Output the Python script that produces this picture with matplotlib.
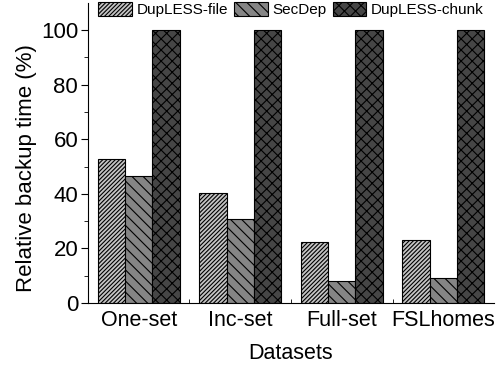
import matplotlib.pyplot as plt
import numpy as np

plt.rcParams['font.family'] = ['Liberation Sans', 'DejaVu Sans']
plt.rcParams['hatch.linewidth'] = 0.8

datasets = ["One-set", "Inc-set", "Full-set", "FSLhomes"]
dupless_file = [52.8, 40.3, 22.3, 23.0]
secdep = [46.7, 30.9, 8.2, 9.2]
dupless_chunk = [100, 100, 100, 100]

x = np.arange(len(datasets))
w = 0.27

fig, ax = plt.subplots(figsize=(4.97, 3.69), dpi=100)
fig.subplots_adjust(left=0.177, right=0.994, top=0.992, bottom=0.179)

ax.bar(x - w, dupless_file, w, color='#c4c4c4', edgecolor='black', hatch='////////', linewidth=0.8, label='DupLESS-file')
ax.bar(x, secdep, w, color='#858585', edgecolor='black', hatch='\\\\\\', linewidth=0.8, label='SecDep')
ax.bar(x + w, dupless_chunk, w, color='#464646', edgecolor='black', hatch='xxx', linewidth=0.8, label='DupLESS-chunk')

ax.set_xlim(-0.5, 3.5)
ax.set_ylim(0, 110)
ax.set_yticks([0, 20, 40, 60, 80, 100])
ax.set_yticks([10, 30, 50, 70, 90], minor=True)
ax.set_xticks(x)
ax.set_xticklabels(datasets)
ax.set_xticks([0.5, 1.5, 2.5], minor=True)
ax.tick_params(axis='x', which='major', length=0, labelsize=15.5, pad=5)
ax.tick_params(axis='x', which='minor', length=3, direction='in')
ax.tick_params(axis='y', which='major', length=5, direction='out', labelsize=16, pad=2)
ax.tick_params(axis='y', which='minor', length=3, direction='out')

for s in ['top', 'right']:
    ax.spines[s].set_visible(False)

ax.set_ylabel("Relative backup time (%)", fontsize=16)
ax.yaxis.set_label_coords(-0.125, 0.45)
ax.set_xlabel("Datasets", fontsize=15.5, labelpad=9)

ax.legend(loc='upper center', bbox_to_anchor=(0.5, 1.023), ncol=3, frameon=False,
          fontsize=11, handlelength=2.2, handleheight=1.0, handletextpad=0.3, columnspacing=0.4,
          borderaxespad=0)

fig.savefig("out.png", dpi=100)
